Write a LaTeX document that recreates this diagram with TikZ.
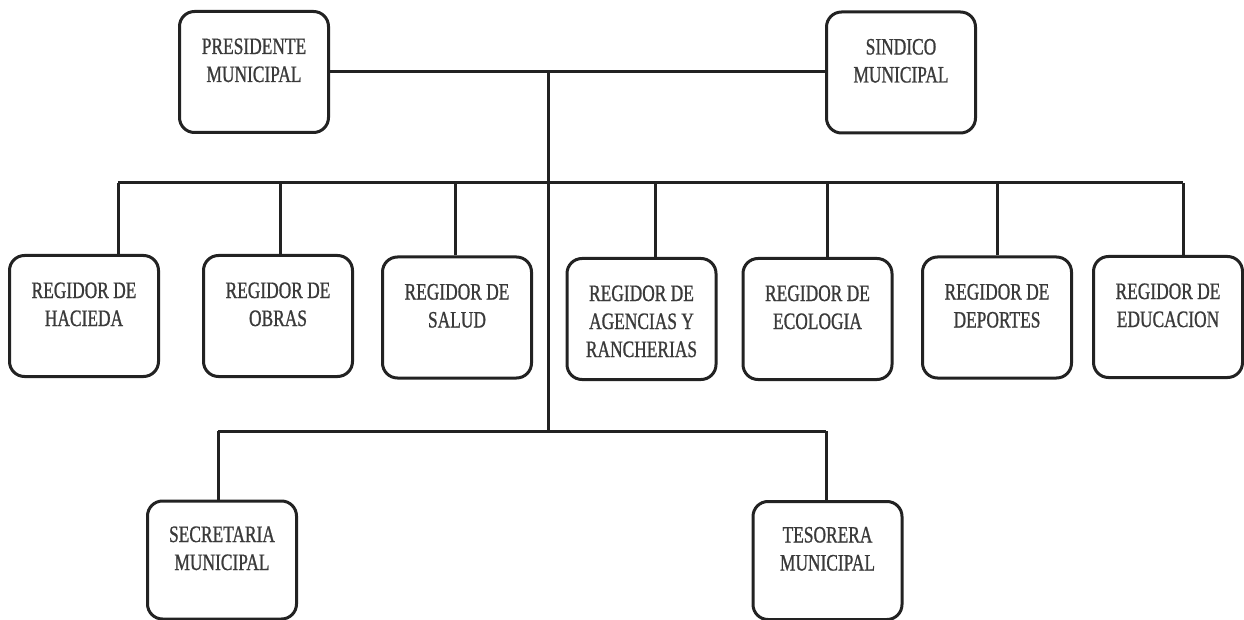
\documentclass[tikz,border=0pt]{standalone}
\usepackage{fontspec}
\setmainfont{Liberation Serif}[FakeStretch=0.74,FakeBold=0.9]
\definecolor{txt}{HTML}{3A3A3A}
\definecolor{ln}{HTML}{222222}
\newcommand{\bxt}[1]{\parbox[c][118pt][t]{146pt}{\centering\fontsize{23.5}{28}\selectfont\color{txt}\rule{0pt}{41pt}#1\par}}
\tikzset{
  orgbox/.style={draw=ln, line width=3pt, rounded corners=15pt, inner sep=0pt,
    minimum width=149pt, minimum height=121pt, fill=white},
  conn/.style={draw=ln, line width=3pt}
}
\begin{document}
\begin{tikzpicture}[x=1pt,y=-1pt]
\useasboundingbox (0,0) rectangle (1244,620);
\clip (0,0) rectangle (1244,620);
\fill[white] (0,0) rectangle (1244,620);
% top level
\node[orgbox] (pres) at (254,72) {\bxt{PRESIDENTE\\MUNICIPAL}};
\node[orgbox] (sind) at (901,72.5) {\bxt{SINDICO\\MUNICIPAL}};
% regidores
\node[orgbox] (hac) at (84,316) {\bxt{REGIDOR DE\\HACIEDA}};
\node[orgbox] (obr) at (278,316) {\bxt{REGIDOR DE\\OBRAS}};
\node[orgbox] (sal) at (457,317.5) {\bxt{REGIDOR DE\\SALUD}};
\node[orgbox] (age) at (641.5,319) {\bxt{REGIDOR DE\\AGENCIAS Y\\RANCHERIAS}};
\node[orgbox] (eco) at (817.5,319) {\bxt{REGIDOR DE\\ECOLOGIA}};
\node[orgbox] (dep) at (997,317.5) {\bxt{REGIDOR DE\\DEPORTES}};
\node[orgbox] (edu) at (1168,317) {\bxt{REGIDOR DE\\EDUCACION}};
% bottom
\node[orgbox, minimum height=116pt] (sec) at (222,560) {\bxt{SECRETARIA\\MUNICIPAL}};
\node[orgbox, minimum height=116pt] (tes) at (827.5,560.5) {\bxt{TESORERA\\MUNICIPAL}};
% connector coordinates
\coordinate (top) at (548,72);
\coordinate (mid) at (548,183);
\coordinate (low) at (548,431);
\coordinate (b1) at (118,183);
\coordinate (b2) at (280,183);
\coordinate (b3) at (455,183);
\coordinate (b4) at (655,183);
\coordinate (b5) at (827,183);
\coordinate (b6) at (997,183);
\coordinate (b7) at (1183,183);
\coordinate (s1) at (218,431);
\coordinate (s2) at (826,431);
% connectors
\draw[conn] (pres.east |- top) -- (sind.west |- top);
\draw[conn] (top) -- (low);
\draw[conn] (b1) -- (b7);
\draw[conn] (b1) -- (b1 |- hac.north);
\draw[conn] (b2) -- (b2 |- obr.north);
\draw[conn] (b3) -- (b3 |- sal.north);
\draw[conn] (b4) -- (b4 |- age.north);
\draw[conn] (b5) -- (b5 |- eco.north);
\draw[conn] (b6) -- (b6 |- dep.north);
\draw[conn] (b7) -- (b7 |- edu.north);
\draw[conn] (s1) -- (s2);
\draw[conn] (s1) -- (s1 |- sec.north);
\draw[conn] (s2) -- (s2 |- tes.north);
\end{tikzpicture}
\end{document}
